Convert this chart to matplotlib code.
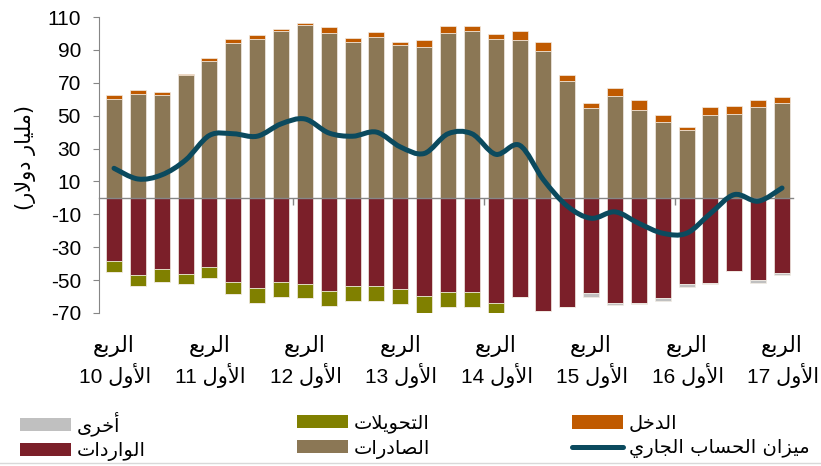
import numpy as np
import matplotlib
matplotlib.use("Agg")
import matplotlib.pyplot as plt
from matplotlib.path import Path
from matplotlib.patches import PathPatch, Patch
from matplotlib.lines import Line2D
from matplotlib.transforms import blended_transform_factory

# ---------------- data (billion dollars), Q1 2010 .. Q1 2017 ----------------
exports = [60.0, 63.3, 62.7, 74.8, 83.1, 93.9, 96.7, 101.2, 105.0, 100.4,
           94.5, 98.1, 93.1, 92.0, 100.2, 101.2, 96.7, 96.1, 89.4, 71.2,
           54.9, 62.0, 53.5, 46.4, 41.4, 50.5, 51.1, 55.2, 58.0]
income = [2.7, 2.4, 1.6, 0.6, 1.9, 2.8, 2.6, 1.6, 1.6, 3.4,
          3.0, 2.5, 1.8, 4.1, 4.4, 3.4, 3.2, 5.1, 5.1, 3.4,
          3.1, 4.7, 6.1, 4.1, 2.0, 4.7, 4.9, 4.4, 3.3]
imports = [-38.3, -46.8, -43.2, -46.2, -41.8, -50.9, -54.9, -50.9, -52.5, -56.6,
           -53.3, -53.3, -55.6, -59.4, -57.0, -57.0, -64.1, -60.0, -68.7, -66.1,
           -57.6, -64.1, -64.1, -60.6, -52.5, -51.5, -44.4, -49.9, -45.4]
transfers = [-7.0, -6.7, -7.7, -6.1, -7.0, -7.5, -8.8, -9.1, -8.1, -8.9,
             -9.2, -9.4, -9.1, -10.4, -9.5, -9.1, -6.7, 0, 0, 0,
             0, 0, 0, 0, 0, 0, 0, 0, 0]
other = [0, 0, 0, 0, 0, 0, 0, 0, 0, 0,
         0, 0, 0, 0, 0, 0, 0, 0, 0, 0,
         -2.8, -1.0, -0.4, -2.4, -1.8, -0.8, 0, -2.0, -1.4]
balance = [18, 11.5, 14, 23, 38, 39, 37.5, 45, 48, 39.5,
           37.5, 40, 31, 27, 39, 39, 26.5, 32, 11, -5,
           -12.4, -8.5, -15.5, -21.5, -21.5, -9.5, 2, -2, 6]
years = ["10", "11", "12", "13", "14", "15", "16", "17"]
yticks = list(range(-70, 111, 20))

quarter_word = "الربع"
first_word = "الأول"
ylabel_text = "مليار دولار"
legend_labels = {
    "other": "أخرى", "imports": "الواردات", "transfers": "التحويلات",
    "exports": "الصادرات", "income": "الدخل", "balance": "ميزان الحساب الجاري",
}

C_EXP = "#8B7755"
C_INC = "#C05A00"
C_IMP = "#7B1F29"
C_TRA = "#808000"
C_OTH = "#C0C0C0"
C_BAL = "#0B4A5E"
GREY = "#868686"

# ---------------- simple Arabic shaping (matplotlib has no RTL/shaping) ----------------
FORMS = {
    "\u0627": ("\uFE8D", "\uFE8E", None, None),
    "\u0623": ("\uFE83", "\uFE84", None, None),
    "\u0628": ("\uFE8F", "\uFE90", "\uFE91", "\uFE92"),
    "\u062A": ("\uFE95", "\uFE96", "\uFE97", "\uFE98"),
    "\u062C": ("\uFE9D", "\uFE9E", "\uFE9F", "\uFEA0"),
    "\u062D": ("\uFEA1", "\uFEA2", "\uFEA3", "\uFEA4"),
    "\u062E": ("\uFEA5", "\uFEA6", "\uFEA7", "\uFEA8"),
    "\u062F": ("\uFEA9", "\uFEAA", None, None),
    "\u0631": ("\uFEAD", "\uFEAE", None, None),
    "\u0632": ("\uFEAF", "\uFEB0", None, None),
    "\u0633": ("\uFEB1", "\uFEB2", "\uFEB3", "\uFEB4"),
    "\u0635": ("\uFEB9", "\uFEBA", "\uFEBB", "\uFEBC"),
    "\u0639": ("\uFEC9", "\uFECA", "\uFECB", "\uFECC"),
    "\u0644": ("\uFEDD", "\uFEDE", "\uFEDF", "\uFEE0"),
    "\u0645": ("\uFEE1", "\uFEE2", "\uFEE3", "\uFEE4"),
    "\u0646": ("\uFEE5", "\uFEE6", "\uFEE7", "\uFEE8"),
    "\u0648": ("\uFEED", "\uFEEE", None, None),
    "\u0649": ("\uFEEF", "\uFEF0", None, None),
    "\u064A": ("\uFEF1", "\uFEF2", "\uFEF3", "\uFEF4"),
}
LAMALEF = {"\u0627": ("\uFEFB", "\uFEFC"), "\u0623": ("\uFEF7", "\uFEF8")}


def shape(s):
    chars = list(s)
    toks = []
    i = 0
    while i < len(chars):
        c = chars[i]
        if c == "\u0644" and i + 1 < len(chars) and chars[i + 1] in LAMALEF:
            toks.append(("LA", chars[i + 1]))
            i += 2
        else:
            toks.append(("C", c))
            i += 1

    def dual(t):
        return t[0] == "C" and t[1] in FORMS and FORMS[t[1]][2] is not None

    def joining(t):
        return t[0] == "LA" or t[1] in FORMS

    out = []
    for k, t in enumerate(toks):
        prev = toks[k - 1] if k > 0 else None
        nxt = toks[k + 1] if k + 1 < len(toks) else None
        jp = prev is not None and dual(prev) and joining(t)
        if t[0] == "LA":
            out.append(LAMALEF[t[1]][1 if jp else 0])
            continue
        c = t[1]
        if c not in FORMS:
            out.append(c)
            continue
        f = FORMS[c]
        jn = f[2] is not None and nxt is not None and joining(nxt)
        if jp and jn:
            out.append(f[3])
        elif jp:
            out.append(f[1])
        elif jn:
            out.append(f[2])
        else:
            out.append(f[0])
    return "".join(out)


def rtl(s):
    return shape(s)[::-1]


AR_FONT = ["DejaVu Sans"]
MIX_FONT = ["Liberation Sans", "DejaVu Sans"]

# ---------------- figure ----------------
W, H = 821, 466
fig = plt.figure(figsize=(W / 100, H / 100), dpi=100)
ax = fig.add_axes([99 / W, 1 - 313 / H, (793 - 99) / W, 296 / H])

x = np.arange(len(exports))
exp_a = np.array(exports)
imp_a = np.array(imports)
tra_a = np.array(transfers)
bw = 0.67
ekw = dict(edgecolor="#f2ece4", linewidth=0.5, zorder=2)
ax.bar(x, exports, bw, color=C_EXP, **ekw)
ax.bar(x, income, bw, bottom=exp_a, color=C_INC, **ekw)
ax.bar(x, imports, bw, color=C_IMP, **ekw)
ax.bar(x, transfers, bw, bottom=imp_a, color=C_TRA, **ekw)
ax.bar(x, other, bw, bottom=imp_a + tra_a, color=C_OTH, **ekw)

# smoothed current-account line (Catmull-Rom rendered as Bezier curves)
pts = np.column_stack([x, np.array(balance, dtype=float)])
verts = [pts[0]]
codes = [Path.MOVETO]
for i in range(len(pts) - 1):
    p0 = pts[i - 1] if i > 0 else pts[i]
    p1, p2 = pts[i], pts[i + 1]
    p3 = pts[i + 2] if i + 2 < len(pts) else pts[i + 1]
    verts += [p1 + (p2 - p0) / 6, p2 - (p3 - p1) / 6, p2]
    codes += [Path.CURVE4] * 3
ax.add_patch(PathPatch(Path(verts, codes), fill=False, edgecolor=C_BAL,
                       linewidth=3.6, capstyle="round", joinstyle="round", zorder=5))

ax.set_xlim(-0.63, 28.46)
ax.set_ylim(-70, 110)
for s in ("top", "right"):
    ax.spines[s].set_visible(False)
ax.spines["left"].set_color(GREY)
ax.spines["left"].set_linewidth(0.8)
ax.spines["bottom"].set_position(("data", 0))
ax.spines["bottom"].set_color(GREY)
ax.spines["bottom"].set_linewidth(1.0)
ax.spines["bottom"].set_zorder(3)

ax.set_yticks(yticks)
ax.set_yticklabels([str(v) for v in yticks], fontsize=15, family=MIX_FONT)
ax.tick_params(axis="y", direction="out", length=4, width=0.8, color=GREY, pad=9)
ax.set_xticks([7.5, 15.5, 23.5])
ax.set_xticklabels([])
ax.tick_params(axis="x", direction="out", length=5, width=1, color=GREY)

trans = blended_transform_factory(ax.transData, ax.transAxes)
for k, yr in enumerate(years):
    xi = x[4 * k]
    ax.text(xi, (313 - 346) / 296, rtl(quarter_word), transform=trans,
            ha="center", va="center", fontsize=15.5, family=AR_FONT, clip_on=False)
    ax.text(xi + 0.05, (313 - 376) / 296, yr + " " + rtl(first_word), transform=trans,
            ha="center", va="center", fontsize=15, family=MIX_FONT, clip_on=False)

fig.text(25 / W, 1 - 157 / H, "(" + rtl(ylabel_text) + ")", rotation=90,
         ha="center", va="center", fontsize=15, family=AR_FONT)

# ---------------- legend (three columns) ----------------
lfs = 14
lkw = dict(loc="center left", frameon=False, borderpad=0, borderaxespad=0,
           handlelength=51 / (lfs * 1.389), handleheight=13 / (lfs * 1.389),
           handletextpad=0.3, labelspacing=0.28,
           prop={"family": AR_FONT, "size": lfs})
cols = [
    (20, [Patch(facecolor=C_OTH), Patch(facecolor=C_IMP)],
     [rtl(legend_labels["other"]), rtl(legend_labels["imports"])]),
    (297, [Patch(facecolor=C_TRA), Patch(facecolor=C_EXP)],
     [rtl(legend_labels["transfers"]), rtl(legend_labels["exports"])]),
    (572, [Patch(facecolor=C_INC), Line2D([], [], color=C_BAL, lw=3.6, solid_capstyle="round")],
     [rtl(legend_labels["income"]), rtl(legend_labels["balance"])]),
]
for xpix, hs, ls in cols:
    fig.legend(hs, ls, bbox_to_anchor=(xpix / W, 1 - 436 / H), **lkw)

fig.add_artist(Line2D([0, 1], [1 - 463 / H, 1 - 463 / H], transform=fig.transFigure,
                      color="#d9d9d9", lw=1))

fig.savefig("out.png", dpi=100)
